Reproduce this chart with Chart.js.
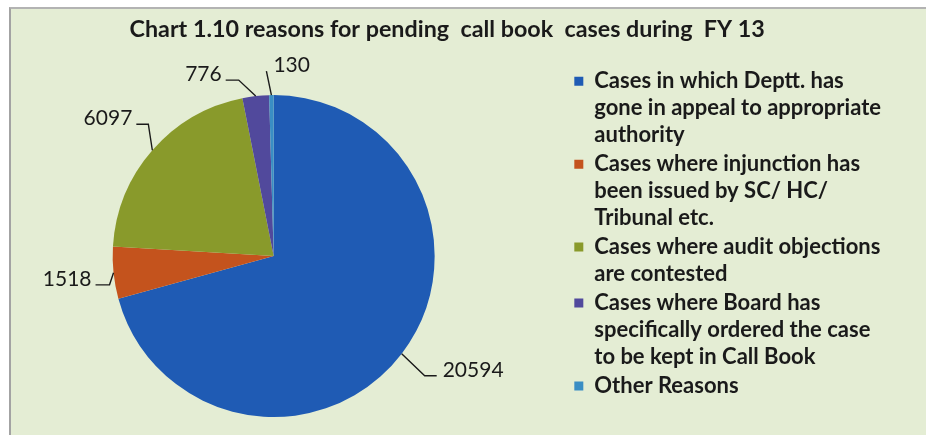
<!DOCTYPE html>
<html>
<head>
<meta charset="utf-8">
<script src="https://cdn.jsdelivr.net/npm/chart.js@4.4.1/dist/chart.umd.min.js"></script>
<style>
html, body { margin: 0; padding: 0; background: #fff; overflow: hidden; width: 926px; height: 435px; position: relative; }
#frame { position: absolute; left: 9px; top: 7px; right: 0; bottom: 0; background: #e4edd4; border-left: 2px solid #a3a3a3; border-top: 2px solid #b3b3b3; }
#myChart { position: absolute; left: -25px; top: 0; }
</style>
</head>
<body>
<div id="frame"></div>
<canvas id="myChart" width="940" height="450"></canvas>
<script>
'use strict';

// legend text, one array of lines per reason
const reasons = [
  ['Cases in which Deptt. has', 'gone in appeal to appropriate', 'authority'],
  ['Cases where injunction has', 'been issued by SC/ HC/', 'Tribunal etc.'],
  ['Cases where audit objections', 'are contested'],
  ['Cases where Board has', 'specifically ordered the case', 'to be kept in Call Book'],
  'Other Reasons'
];
const pendingCases = [20594, 1518, 6097, 776, 130];
const sliceColors = ['#1f5bb4', '#c4531d', '#899a2b', '#51499c', '#3a8ec4'];

// where each value label sits, relative to the middle of its arc edge
const leaderStyle = [
  {dx: 23, dy: 22, h: 12, tx: 6},
  {dx: -4, dy: 12, h: -14},
  {dx: -4, dy: -26, h: -12},
  {dx: -17, dy: -16, h: -13},
  {dx: -5, dy: -24, h: 0, tx: 7}
];

const leaderLabels = {
  id: 'leaderLabels',
  afterDatasetsDraw(chart) {
    const ctx = chart.ctx;
    const meta = chart.getDatasetMeta(0);
    ctx.save();
    ctx.font = '21px Lato';
    ctx.strokeStyle = '#1a1a1a';
    ctx.fillStyle = '#1a1a1a';
    ctx.lineWidth = 1.4;
    ctx.textBaseline = 'alphabetic';
    meta.data.forEach((arc, i) => {
      const p = arc.getProps(['x', 'y', 'startAngle', 'endAngle', 'outerRadius'], true);
      const mid = (p.startAngle + p.endAngle) / 2;
      const st = leaderStyle[i];
      const sx = p.x + Math.cos(mid) * p.outerRadius;
      const sy = p.y + Math.sin(mid) * p.outerRadius;
      const ex = sx + st.dx;
      const ey = sy + st.dy;
      const hx = ex + st.h;
      ctx.beginPath();
      ctx.moveTo(sx, sy);
      ctx.lineTo(ex, ey);
      ctx.lineTo(hx, ey);
      ctx.stroke();
      let tx;
      if (st.h < 0) {
        ctx.textAlign = 'right';
        tx = hx - 4;
      } else {
        ctx.textAlign = 'left';
        tx = hx + (st.tx || 5);
      }
      ctx.fillText(String(pendingCases[i]), tx, ey + 1);
    });
    ctx.restore();
  }
};

const data = {
  labels: reasons,
  datasets: [{
    data: pendingCases,
    backgroundColor: sliceColors,
    borderWidth: 0,
    radius: 161
  }]
};

const config = {
  type: 'pie',
  data: data,
  options: {
    responsive: false,
    animation: false,
    layout: {
      padding: {top: 0, bottom: 6, left: 0, right: 24}
    },
    plugins: {
      title: {
        display: true,
        // leading spaces nudge the centred title a bit right, like the original
        text: '     Chart 1.10 reasons for pending  call book  cases during  FY 13',
        color: '#1a1a1a',
        font: {family: 'Lato', size: 23.3, weight: 'bold', lineHeight: 1.2},
        padding: {top: 15, bottom: 25.2}
      },
      legend: {
        position: 'right',
        align: 'start',
        fullSize: false,
        labels: {
          color: '#1a1a1a',
          font: {family: 'Lato', size: 22, weight: 'bold', lineHeight: 1.227},
          boxWidth: 9,
          boxHeight: 9,
          padding: 2
        }
      },
      tooltip: {enabled: false}
    }
  },
  plugins: [leaderLabels]
};

let canvasChart = document.getElementById('myChart');
const myChart = new Chart(canvasChart, config);
</script>
</body>
</html>
